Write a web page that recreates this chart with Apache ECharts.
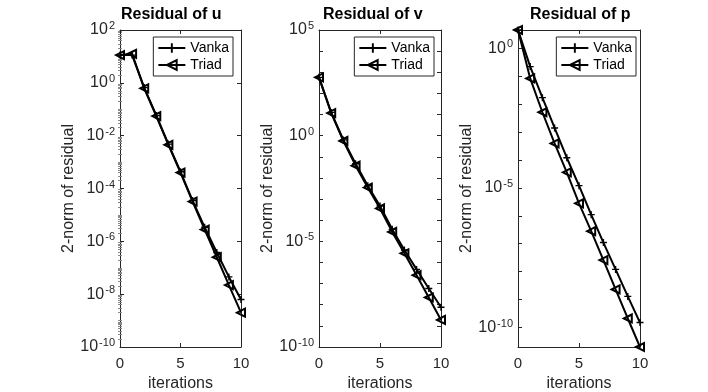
<!DOCTYPE html>
<html>
<head>
<meta charset="utf-8">
<script src="https://cdn.jsdelivr.net/npm/echarts@6/dist/echarts.min.js"></script>
<style>
  html, body { margin: 0; padding: 0; background: #fff; }
  #chart { width: 708px; height: 392px; }
</style>
</head>
<body>
<div id="chart"></div>
<script>
// iteration count, same for the three panels
var iterations = [0, 1, 2, 3, 4, 5, 6, 7, 8, 9, 10]

// residual of u
var uVanka = [11.2, 11.2, 0.66, 0.058, 4.8e-3, 4.3e-4, 3.5e-5, 3.4e-6, 3.8e-7, 4.5e-8, 6.3e-9]
var uTriad = [11.2, 12.6, 0.62, 0.055, 4.5e-3, 4.0e-4, 3.2e-5, 2.8e-6, 2.5e-7, 2.2e-8, 2.0e-9]
// residual of v
var vVanka = [575, 12.6, 0.63, 0.047, 4.3e-3, 4.7e-4, 3.7e-5, 3.9e-6, 4.7e-7, 5.9e-8, 7.6e-9]
var vTriad = [575, 11.7, 0.56, 0.038, 3.5e-3, 3.6e-4, 2.8e-5, 2.7e-6, 2.5e-7, 2.2e-8, 1.9e-9]
// residual of p
var pVanka = [4.5, 0.22, 0.017, 1.4e-3, 1.2e-4, 1.2e-5, 1.1e-6, 1.1e-7, 1.2e-8, 1.3e-9, 1.5e-10]
var pTriad = [4.5, 0.083, 5.1e-3, 3.9e-4, 3.6e-5, 2.8e-6, 2.8e-7, 2.6e-8, 2.3e-9, 2.1e-10, 2.0e-11]

// tick labels (y) and tick marks
var xTicks = [0, 5, 10]
var uLabels = [1e2, 1e0, 1e-2, 1e-4, 1e-6, 1e-8, 1e-10]
var vLabels = [1e5, 1e0, 1e-5, 1e-10]
var vTicks = [1e5, 1e4, 1e3, 1e2, 1e1, 1e0, 1e-1, 1e-2, 1e-3, 1e-4, 1e-5, 1e-6, 1e-7, 1e-8, 1e-9, 1e-10]
var pLabels = [1e0, 1e-5, 1e-10]
var pTicks = [1e0, 1e-1, 1e-2, 1e-3, 1e-4, 1e-5, 1e-6, 1e-7, 1e-8, 1e-9, 1e-10]
// minor ticks of the u panel: 2..9 x 10^n and the odd decades
var uMinor = [
  2e-10, 3e-10, 4e-10, 5e-10, 6e-10, 7e-10, 8e-10, 9e-10, 1e-9,
  2e-9, 3e-9, 4e-9, 5e-9, 6e-9, 7e-9, 8e-9, 9e-9,
  2e-8, 3e-8, 4e-8, 5e-8, 6e-8, 7e-8, 8e-8, 9e-8, 1e-7,
  2e-7, 3e-7, 4e-7, 5e-7, 6e-7, 7e-7, 8e-7, 9e-7,
  2e-6, 3e-6, 4e-6, 5e-6, 6e-6, 7e-6, 8e-6, 9e-6, 1e-5,
  2e-5, 3e-5, 4e-5, 5e-5, 6e-5, 7e-5, 8e-5, 9e-5,
  2e-4, 3e-4, 4e-4, 5e-4, 6e-4, 7e-4, 8e-4, 9e-4, 1e-3,
  2e-3, 3e-3, 4e-3, 5e-3, 6e-3, 7e-3, 8e-3, 9e-3,
  2e-2, 3e-2, 4e-2, 5e-2, 6e-2, 7e-2, 8e-2, 9e-2, 1e-1,
  2e-1, 3e-1, 4e-1, 5e-1, 6e-1, 7e-1, 8e-1, 9e-1,
  2, 3, 4, 5, 6, 7, 8, 9, 10,
  20, 30, 40, 50, 60, 70, 80, 90
]

var FONT = '"Liberation Sans", Arial, sans-serif'
var AX = '#262626'
var PLUS = 'path://M4,0H6V4H10V6H6V10H4V6H0V4H4Z'

var panels = [
  { title: 'Residual of u', titleLeft: 121, left: 120, width: 121, min: 1e-10, max: 1e2,
    ticks: uLabels, labels: uLabels, vanka: uVanka, triad: uTriad, legendRight: 475 },
  { title: 'Residual of v', titleLeft: 323, left: 319, width: 122, min: 1e-10, max: 1e5,
    ticks: vTicks, labels: vLabels, vanka: vVanka, triad: vTriad, legendRight: 274 },
  { title: 'Residual of p', titleLeft: 530, left: 518, width: 122, min: 'dataMin', max: 'dataMax',
    ticks: pTicks, labels: pLabels, vanka: pVanka, triad: pTriad, legendRight: 72 }
]

var myChart = echarts.init(document.getElementById('chart'))

var grids = [], xAxes = [], yAxes = [], series = [], titles = [], legends = []

function pairs(ys) {
  return iterations.map(function (x, i) { return [x, ys[i]] })
}

function sup(v) {
  return '{b|10}{s|' + Math.round(Math.log10(v)) + '}'
}

panels.forEach(function (p, i) {
  grids.push({ left: p.left, top: 30, width: p.width, height: 317, outerBoundsMode: 'none' })
  titles.push({
    text: p.title, left: p.titleLeft, top: 7, padding: 0,
    textStyle: { fontFamily: FONT, fontSize: 16, fontWeight: 'bold', color: '#000' }
  })

  // bottom and top x axes (box)
  ;['bottom', 'top'].forEach(function (pos) {
    xAxes.push({
      type: 'value', gridIndex: i, position: pos, min: 0, max: 10, interval: 5,
      name: pos === 'bottom' ? 'iterations' : '',
      nameLocation: 'middle', nameGap: 25,
      nameTextStyle: { fontFamily: FONT, fontSize: 16, color: AX },
      axisLine: { show: true, onZero: false, lineStyle: { color: AX, width: 1 } },
      axisTick: { inside: true, length: 4, lineStyle: { color: AX } },
      axisLabel: { show: pos === 'bottom', margin: 9, fontFamily: FONT, fontSize: 15, color: AX,
        customValues: xTicks },
      splitLine: { show: false }
    })
  })

  // left and right y axes (box)
  ;['left', 'right'].forEach(function (pos) {
    yAxes.push({
      type: 'log', gridIndex: i, position: pos, min: p.min, max: p.max,
      name: pos === 'left' ? '2-norm of residual' : '',
      nameLocation: 'middle', nameGap: 8,
      nameTextStyle: { fontFamily: FONT, fontSize: 16, color: AX },
      axisLine: { show: true, onZero: false, lineStyle: { color: AX, width: 1 } },
      axisTick: { inside: true, length: 4, lineStyle: { color: AX }, customValues: p.ticks },
      axisLabel: {
        show: pos === 'left', margin: 5, customValues: p.labels,
        formatter: sup,
        rich: {
          b: { fontFamily: FONT, fontSize: 16, color: AX, lineHeight: 19 },
          s: { fontFamily: FONT, fontSize: 11, color: AX, lineHeight: 11, verticalAlign: 'top', padding: [0, 0, 0, 1] }
        }
      },
      splitLine: { show: false }
    })
  })

  series.push({
    name: 'Vanka', type: 'line', xAxisIndex: 2 * i, yAxisIndex: yAxes.length - 2,
    data: pairs(p.vanka), clip: false,
    symbol: PLUS, symbolSize: 7,
    itemStyle: { color: '#000' },
    lineStyle: { color: '#000', width: 2 }
  })
  series.push({
    name: 'Triad', type: 'line', xAxisIndex: 2 * i, yAxisIndex: yAxes.length - 2,
    data: pairs(p.triad), clip: false,
    symbol: 'triangle', symbolRotate: 90, symbolSize: 8,
    itemStyle: { color: 'rgba(255,255,255,0)', borderColor: '#000', borderWidth: 2 },
    lineStyle: { color: '#000', width: 2 }
  })

  legends.push({
    data: ['Vanka', 'Triad'], orient: 'vertical', right: p.legendRight, top: 37,
    selectedMode: false, backgroundColor: '#fff',
    borderColor: AX, borderWidth: 1, padding: [4, 4, 4, 4],
    itemGap: 3, itemWidth: 27, itemHeight: 12,
    textStyle: { fontFamily: FONT, fontSize: 14, color: '#000' }
  })
})

// minor ticks on the u panel, both sides
;['left', 'right'].forEach(function (pos) {
  yAxes.push({
    type: 'log', gridIndex: 0, position: pos, min: 1e-10, max: 1e2,
    axisLine: { show: false },
    axisTick: { inside: true, length: 2, lineStyle: { color: '#8a8a8a' }, customValues: uMinor },
    axisLabel: { show: false },
    splitLine: { show: false }
  })
})

myChart.setOption({
  animation: false,
  backgroundColor: '#fff',
  title: titles,
  legend: legends,
  grid: grids,
  xAxis: xAxes,
  yAxis: yAxes,
  series: series
})
</script>
</body>
</html>
